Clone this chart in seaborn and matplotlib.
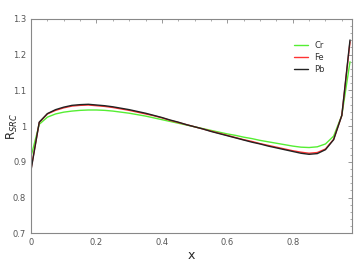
import pandas as pd
import numpy as np
import matplotlib
matplotlib.use('Agg')
import matplotlib.pyplot as plt
import seaborn as sns
from matplotlib.ticker import MultipleLocator, FuncFormatter

# 数据 (x 步长 0.025)
x = [0.0, 0.025, 0.05, 0.075, 0.1, 0.125, 0.15, 0.175, 0.2, 0.225,
     0.25, 0.275, 0.3, 0.325, 0.35, 0.375, 0.4, 0.425, 0.45, 0.475,
     0.5, 0.525, 0.55, 0.575, 0.6, 0.625, 0.65, 0.675, 0.7, 0.725,
     0.75, 0.775, 0.8, 0.825, 0.85, 0.875, 0.9, 0.925, 0.95, 0.975]

r_cr = [0.915, 1.005, 1.025, 1.034, 1.039, 1.042, 1.044, 1.045, 1.045, 1.044,
        1.042, 1.039, 1.036, 1.032, 1.028, 1.023, 1.018, 1.013, 1.008, 1.003,
        0.998, 0.993, 0.988, 0.983, 0.978, 0.974, 0.969, 0.965, 0.960, 0.956,
        0.952, 0.948, 0.944, 0.941, 0.940, 0.942, 0.950, 0.972, 1.030, 1.180]

r_fe = [0.880, 1.010, 1.034, 1.044, 1.051, 1.056, 1.058, 1.059, 1.057, 1.055,
        1.052, 1.048, 1.044, 1.039, 1.034, 1.029, 1.023, 1.016, 1.010, 1.004,
        0.998, 0.992, 0.986, 0.980, 0.974, 0.968, 0.962, 0.957, 0.951, 0.946,
        0.941, 0.936, 0.931, 0.927, 0.924, 0.926, 0.936, 0.963, 1.030, 1.236]

r_pb = [0.877, 1.011, 1.035, 1.046, 1.053, 1.058, 1.060, 1.061, 1.059, 1.057,
        1.054, 1.050, 1.046, 1.041, 1.036, 1.030, 1.024, 1.017, 1.011, 1.004,
        0.998, 0.992, 0.985, 0.979, 0.973, 0.967, 0.961, 0.955, 0.950, 0.944,
        0.939, 0.934, 0.929, 0.924, 0.921, 0.923, 0.934, 0.962, 1.030, 1.241]

nuclei = ['Cr', 'Fe', 'Pb']
colors = ['#55ee33', '#ff3333', '#222222']

df = pd.concat([
    pd.DataFrame({'x': x, 'R': r, 'nucleus': n})
    for n, r in zip(nuclei, [r_cr, r_fe, r_pb])
])

sns.set_style('white')
fig = plt.figure(figsize=(3.57, 2.66), dpi=100)
ax = fig.add_axes([0.087, 0.123, 0.898, 0.806])

sns.lineplot(data=df, x='x', y='R', hue='nucleus', palette=colors,
             linewidth=1.0, ax=ax)

ax.set_xlim(0, 0.98)
ax.set_ylim(0.7, 1.3)
ax.xaxis.set_major_locator(MultipleLocator(0.2))
ax.xaxis.set_minor_locator(MultipleLocator(0.05))
ax.yaxis.set_major_locator(MultipleLocator(0.1))
ax.yaxis.set_minor_locator(MultipleLocator(0.02))
ax.yaxis.set_major_formatter(FuncFormatter(lambda v, p: f'{v:g}'))
ax.xaxis.set_major_formatter(FuncFormatter(lambda v, p: f'{v:g}'))

ax.tick_params(which='both', direction='in', top=True, right=True,
               color='#888888', labelcolor='#555555', labelsize=6)
ax.tick_params(which='major', length=3, width=0.6)
ax.tick_params(which='minor', length=1.5, width=0.5)
for s in ax.spines.values():
    s.set_color('#888888')
    s.set_linewidth(0.8)

ax.set_xlabel('x', fontsize=9, labelpad=1)
ax.set_ylabel('R$_{SRC}$', fontsize=8.5)
ax.yaxis.set_label_coords(-0.035, 0.5)

leg = ax.legend(loc='upper right', bbox_to_anchor=(0.94, 0.93), frameon=False,
                fontsize=6, handlelength=1.6, handletextpad=0.8,
                labelspacing=0.35)
for t in leg.get_texts():
    t.set_color('#333333')

fig.savefig('out.png', dpi=100)
